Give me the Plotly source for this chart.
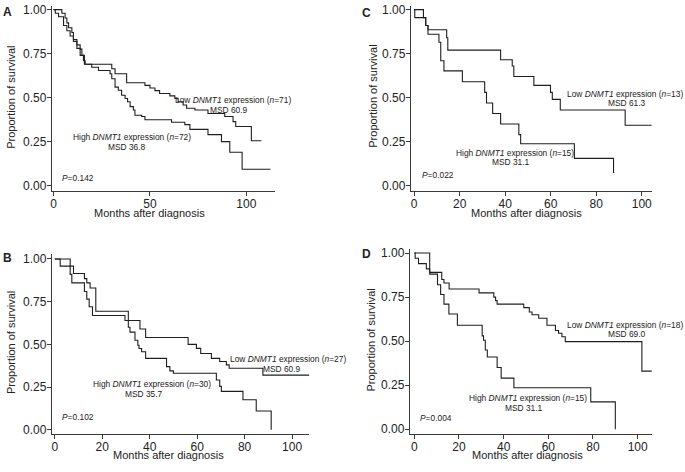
import plotly.graph_objects as go

W, H = 685, 472

# ---------------- data (months, survival proportion) ----------------
A_low_t = [0, 4.3, 6.0, 6.9, 7.8, 9.5, 10.3, 12.1, 13.8, 14.7, 16.0, 30.2, 31.9, 37.9, 47.4, 50.0, 52.6, 55.0, 60.3, 62.9, 64.6, 67.2, 69.0, 73.3, 80.1, 88.8, 93.1, 94.5, 102.6, 107.8]
A_low_s = [1.0, 0.98, 0.953, 0.925, 0.897, 0.87, 0.83, 0.80, 0.776, 0.74, 0.69, 0.664, 0.636, 0.585, 0.57, 0.555, 0.54, 0.524, 0.51, 0.496, 0.477, 0.458, 0.44, 0.43, 0.41, 0.393, 0.364, 0.336, 0.255, 0.255]
A_high_t = [0, 0.9, 2.6, 5.2, 6.9, 8.6, 10.3, 12.1, 13.8, 15.5, 16.4, 19.8, 23.3, 29.3, 30.2, 31.9, 33.6, 35.3, 37.1, 38.4, 39.7, 41.4, 42.2, 45.7, 47.4, 61.2, 68.1, 70.7, 80.1, 87.1, 91.4, 97.8, 112.5]
A_high_s = [1.0, 0.98, 0.96, 0.91, 0.88, 0.85, 0.82, 0.78, 0.74, 0.71, 0.69, 0.673, 0.654, 0.636, 0.607, 0.56, 0.542, 0.514, 0.495, 0.477, 0.449, 0.43, 0.40, 0.393, 0.374, 0.36, 0.347, 0.32, 0.29, 0.25, 0.19, 0.093, 0.093]

B_low_t = [0, 6.5, 7.9, 12.5, 13.5, 14.9, 17.3, 31.0, 35.9, 38.3, 56.2, 59.7, 61.5, 66.0, 69.5, 72.3, 73.5, 87.7, 107.3]
B_low_s = [1.0, 0.958, 0.915, 0.885, 0.86, 0.83, 0.694, 0.64, 0.59, 0.54, 0.50, 0.477, 0.447, 0.418, 0.40, 0.38, 0.36, 0.32, 0.32]
B_high_t = [0, 2.3, 6.5, 7.2, 12.5, 13.5, 14.5, 15.9, 29.6, 31.0, 31.7, 33.8, 35.0, 35.5, 36.6, 38.3, 47.1, 48.5, 50.0, 68.1, 69.5, 70.2, 79.3, 84.9, 91.2]
B_high_s = [1.0, 0.958, 0.91, 0.86, 0.81, 0.765, 0.72, 0.669, 0.64, 0.60, 0.572, 0.524, 0.495, 0.476, 0.457, 0.418, 0.37, 0.345, 0.331, 0.292, 0.254, 0.225, 0.176, 0.11, 0.0]

C_low_t = [0, 4.1, 5.1, 6.1, 14.3, 14.8, 38.0, 43.1, 43.8, 52.6, 59.9, 60.7, 64.2, 92.7, 104.4]
C_low_s = [1.0, 0.955, 0.91, 0.886, 0.84, 0.77, 0.715, 0.68, 0.62, 0.57, 0.53, 0.49, 0.43, 0.343, 0.343]
C_high_t = [0, 0.3, 5.1, 6.1, 10.9, 11.7, 13.1, 21.2, 31.0, 31.8, 34.5, 38.0, 46.0, 46.8, 70.4, 87.6, 87.9]
C_high_s = [1.0, 0.955, 0.91, 0.86, 0.815, 0.71, 0.652, 0.59, 0.53, 0.47, 0.41, 0.35, 0.29, 0.238, 0.155, 0.075, 0.075]

D_low_t = [0, 6.9, 12.3, 13.3, 15.6, 29.0, 35.6, 36.4, 37.1, 49.0, 51.5, 52.7, 55.7, 59.4, 63.2, 64.6, 66.1, 67.6, 101.9, 106.3]
D_low_s = [1.0, 0.89, 0.85, 0.83, 0.796, 0.774, 0.75, 0.73, 0.71, 0.69, 0.665, 0.65, 0.63, 0.59, 0.56, 0.545, 0.525, 0.497, 0.33, 0.33]
D_high_t = [0, 0.4, 1.9, 5.4, 6.9, 10.4, 11.8, 13.3, 15.5, 19.3, 30.4, 31.0, 31.8, 32.7, 37.1, 38.9, 44.6, 79.0, 90.0]
D_high_s = [1.0, 0.97, 0.94, 0.91, 0.88, 0.82, 0.765, 0.71, 0.654, 0.59, 0.53, 0.505, 0.45, 0.41, 0.35, 0.29, 0.235, 0.155, 0.0]

y_ticks = [0, 0.25, 0.5, 0.75, 1.0]
y_ticklabels = ["0.00", "0.25", "0.50", "0.75", "1.00"]
xA_ticks = [0, 50, 100]
x_ticks = [0, 20, 40, 60, 80, 100]

panels = [
    # name, low, high, x-domain px, y-domain px (top,bottom), xrange, yrange, xticks
    ("A", (A_low_t, A_low_s), (A_high_t, A_high_s), (50, 273.3), (3, 190.7), [-0.88, 114.6], [-0.032, 1.021], xA_ticks),
    ("B", (B_low_t, B_low_s), (B_high_t, B_high_s), (50, 308.3), (254.5, 436.7), [-1.22, 107.3], [-0.0254, 1.0277], x_ticks),
    ("C", (C_low_t, C_low_s), (C_high_t, C_high_s), (410, 651.7), (3, 190.7), [-1.45, 104.4], [-0.032, 1.021], x_ticks),
    ("D", (D_low_t, D_low_s), (D_high_t, D_high_s), (409, 652.3), (249.5, 436.7), [-2.0, 106.6], [-0.028, 1.021], x_ticks),
]

FONT = "Liberation Sans, Arial, Helvetica, sans-serif"
LINE = "#1e1e1e"
AX = "#3a3a3a"

fig = go.Figure()
layout = dict(width=W, height=H, margin=dict(l=0, r=0, t=0, b=0), autosize=False,
              paper_bgcolor="white", plot_bgcolor="white", showlegend=False,
              font=dict(family=FONT, color="#222", size=12))

for i, (name, low, high, xd, yd, xr, yr, xt) in enumerate(panels):
    sfx = "" if i == 0 else str(i + 1)
    for t, s in (low, high):
        fig.add_trace(go.Scatter(x=t, y=s, mode="lines", line=dict(color=LINE, width=1.1, shape="hv"),
                                 xaxis="x" + sfx, yaxis="y" + sfx, hoverinfo="skip"))
    layout["xaxis" + sfx] = dict(domain=[xd[0] / W, xd[1] / W], range=xr, anchor="y" + sfx,
                                 showgrid=False, zeroline=False, showline=True, linecolor=AX, linewidth=1,
                                 ticks="outside", ticklen=4, tickcolor=AX, tickwidth=1,
                                 tickvals=xt, ticktext=[str(v) for v in xt], ticklabelstandoff=-3,
                                 tickfont=dict(size=12, family=FONT, color="#222"))
    layout["yaxis" + sfx] = dict(domain=[1 - yd[1] / H, 1 - yd[0] / H], range=yr, anchor="x" + sfx,
                                 showgrid=False, zeroline=False, showline=True, linecolor=AX, linewidth=1,
                                 ticks="outside", ticklen=4, tickcolor=AX, tickwidth=1,
                                 tickvals=y_ticks, ticktext=y_ticklabels, ticklabelstandoff=-2,
                                 tickfont=dict(size=12, family=FONT, color="#222"))

fig.update_layout(**layout)

def ann(text, x, y, size=8.4, xanchor="center", bold=False, angle=0):
    fig.add_annotation(text=("<b>%s</b>" % text) if bold else text,
                       x=x / W, y=1 - y / H, xref="paper", yref="paper",
                       xanchor=xanchor, yanchor="middle", showarrow=False, textangle=angle,
                       font=dict(size=size, family=FONT, color="#222"))

# panel letters
ann("A", 6, 9, size=12, bold=True)
ann("B", 6, 258, size=12, bold=True)
ann("C", 366, 10, size=12, bold=True)
ann("D", 366, 254, size=12, bold=True)

# axis titles
for (cx, cy) in [(9, 95), (8.5, 344), (372, 94), (370, 341)]:
    ann("Proportion of survival", cx, cy, size=11, angle=-90)
for (cx, cy) in [(148, 212.5), (167, 457.5), (526, 212.5), (527, 457.5)]:
    ann("Months after diagnosis", cx, cy, size=11)

# curve labels
ann("Low <i>DNMT1</i> expression (<i>n</i>=71)", 232, 98)
ann("MSD 60.9", 228, 108)
ann("High <i>DNMT1</i> expression (<i>n</i>=72)", 130, 136)
ann("MSD 36.8", 125, 146)
ann("<i>P</i>=0.142", 58, 177, xanchor="left")

ann("Low <i>DNMT1</i> expression (<i>n</i>=27)", 287, 361)
ann("MSD 60.9", 281, 371)
ann("High <i>DNMT1</i> expression (<i>n</i>=30)", 150, 386)
ann("MSD 35.7", 142.5, 396)
ann("<i>P</i>=0.102", 58, 419, xanchor="left")

ann("Low <i>DNMT1</i> expression (<i>n</i>=13)", 625, 92)
ann("MSD 61.3", 627, 101)
ann("High <i>DNMT1</i> expression (<i>n</i>=15)", 515, 152)
ann("MSD 31.1", 510, 161)
ann("<i>P</i>=0.022", 419, 174, xanchor="left")

ann("Low <i>DNMT1</i> expression (<i>n</i>=18)", 625, 326)
ann("MSD 69.0", 626.5, 335)
ann("High <i>DNMT1</i> expression (<i>n</i>=15)", 527.5, 400)
ann("MSD 31.1", 523.5, 410)
ann("<i>P</i>=0.004", 417, 420, xanchor="left")

fig.write_html("out.html", config={"displayModeBar": False, "staticPlot": True},
               post_script="document.body.style.margin='0';document.body.style.overflow='hidden';")
